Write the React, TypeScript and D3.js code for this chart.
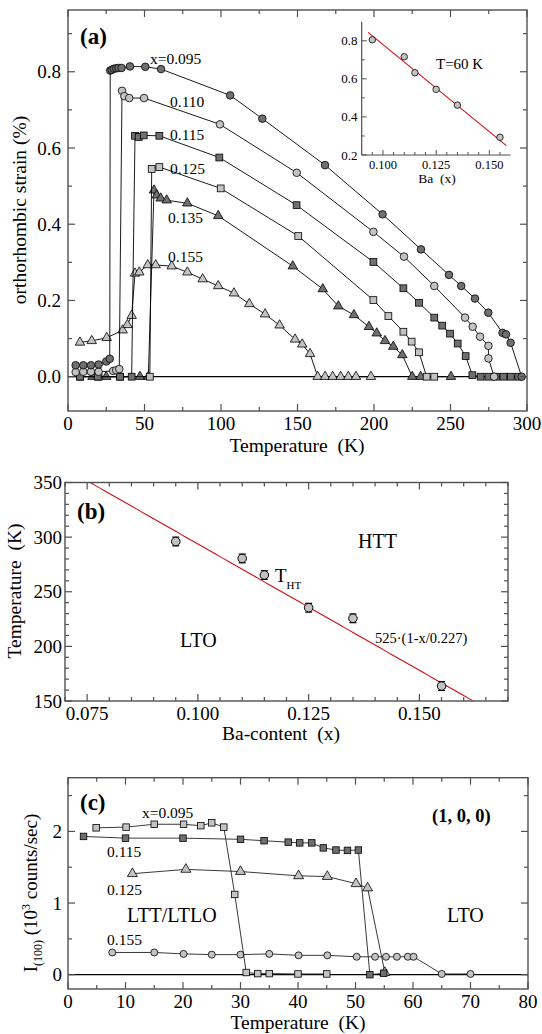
import React from 'react';
import * as d3 from 'd3';

const FONT = '"Liberation Serif", "Times New Roman", Times, serif';
const DARK = '#6f6f6f';
const LIGHT = '#c3c3c3';
const FRAME = '#505050';
const NB = '\u00A0';

// ---------- Panel (a): orthorhombic strain vs temperature ----------
const a095T = [5, 10, 15, 20, 25, 27.3, 27.6, 28.6, 30, 31.5, 33, 35, 40.5, 50.5, 60.8, 106, 127, 168, 205.6, 230.7, 249, 257, 266, 274.7, 284, 286.3, 289.3, 296.5];
const a095V = [0.03, 0.03, 0.03, 0.032, 0.04, 0.047, 0.803, 0.805, 0.808, 0.809, 0.81, 0.81, 0.814, 0.813, 0.807, 0.738, 0.677, 0.555, 0.426, 0.334, 0.267, 0.238, 0.205, 0.168, 0.115, 0.111, 0.089, 0.0];
const a110T = [5, 10, 15, 20, 29.5, 31.5, 33.5, 35.3, 36.8, 40, 49.7, 99.3, 149.5, 199.6, 219.6, 239.4, 259.5, 264.5, 269.3, 274.8, 274.8, 278.5];
const a110V = [0.012, 0.013, 0.013, 0.013, 0.015, 0.017, 0.02, 0.75, 0.736, 0.731, 0.731, 0.662, 0.535, 0.38, 0.315, 0.238, 0.155, 0.131, 0.105, 0.081, 0.048, 0];
const a115T = [7.8, 19.4, 34, 41.6, 43.8, 46.2, 49.5, 59.7, 98.9, 149.4, 199.6, 219.2, 229.4, 239.4, 244.6, 249.7, 254.7, 259.9, 264.3, 269.7, 274.8, 279.7, 284.6, 289.4, 294.3];
const a115V = [0, 0, 0, 0, 0.632, 0.629, 0.633, 0.632, 0.575, 0.45, 0.301, 0.232, 0.194, 0.155, 0.134, 0.113, 0.087, 0.054, 0.004, 0, 0, 0, 0, 0, 0];
const a125T = [8, 20, 34, 53.5, 54.7, 59.7, 99.8, 150.5, 199.6, 209.4, 219.2, 224.6, 229.4, 234.4, 239.4];
const a125V = [0, 0, 0, 0, 0.545, 0.55, 0.494, 0.369, 0.201, 0.159, 0.118, 0.092, 0.064, 0, 0];
const a135T = [16, 25, 47, 52.5, 56.2, 58, 60.6, 64.5, 78, 98.2, 146.9, 166.5, 176.7, 186.9, 196.7, 201.8, 207.2, 212.6, 218.5, 225, 230.5, 250.3];
const a135V = [0, 0, 0, 0, 0.489, 0.476, 0.468, 0.463, 0.455, 0.422, 0.29, 0.23, 0.185, 0.162, 0.131, 0.114, 0.094, 0.079, 0.057, 0, 0, 0];
const a155T = [7.8, 15.5, 25.3, 35.7, 38.8, 41.6, 43.8, 46.6, 52.1, 57.3, 67.8, 78, 88, 98.2, 108.5, 118.5, 128.8, 138.3, 148.4, 153.1, 158.2, 163.2, 168, 173, 178.2, 183.2, 188.2, 198];
const a155V = [0.09, 0.094, 0.102, 0.122, 0.136, 0.16, 0.271, 0.274, 0.293, 0.293, 0.29, 0.274, 0.256, 0.238, 0.219, 0.191, 0.164, 0.135, 0.098, 0.085, 0.06, 0, 0, 0, 0, 0, 0, 0];

const aXMajor = [0, 50, 100, 150, 200, 250, 300];
const aXMinor = [25, 75, 125, 175, 225, 275];
const aYMajor = [0, 0.2, 0.4, 0.6, 0.8];
const aYMinor = [0.1, 0.3, 0.5, 0.7, 0.9];

// inset
const insetX = [0.095, 0.110, 0.115, 0.125, 0.135, 0.155];
const insetY = [0.805, 0.716, 0.632, 0.545, 0.462, 0.293];
const insetFitX = [0.093, 0.158];
const insetFitY = [0.844, 0.249];
const insetXMajor = [0.1, 0.125, 0.15];
const insetXMinor = [0.095, 0.105, 0.11, 0.115, 0.12, 0.13, 0.135, 0.14, 0.145, 0.155];
const insetYMajor = [0.2, 0.4, 0.6, 0.8];
const insetYMinor = [0.3, 0.5, 0.7];

// ---------- Panel (b): T_HT vs Ba content ----------
const bX = [0.095, 0.110, 0.115, 0.125, 0.135, 0.155];
const bT = [296, 280.5, 265.3, 235.4, 225.7, 163.7];
const bErr = [4, 4, 4, 4, 4, 4];
const fitT0 = 525;
const fitXc = 0.227;
const bXMajor = [0.075, 0.1, 0.125, 0.15];
const bXMinor = d3.range(0, 21).map(i => 0.07 + i * 0.005).filter(v => !bXMajor.some(m => Math.abs(m - v) < 1e-6));
const bYMajor = [150, 200, 250, 300, 350];
const bYMinor = d3.range(150, 351, 10).filter(v => v % 50 !== 0);

// ---------- Panel (c): I(100) vs temperature ----------
const c095T = [4.9, 10.1, 15, 20.1, 23.1, 25, 27.1, 29, 31, 33, 35, 40, 45];
const c095I = [2.05, 2.06, 2.10, 2.10, 2.08, 2.12, 2.06, 1.12, 0.03, 0.015, 0.015, 0.01, 0.01];
const c115T = [2.7, 10, 20, 30, 34.1, 38.3, 40.3, 42.4, 44.4, 46.6, 48.6, 50.5, 52.5, 54.9];
const c115I = [1.93, 1.906, 1.906, 1.89, 1.87, 1.85, 1.84, 1.84, 1.77, 1.74, 1.735, 1.74, 0.0, 0.02];
const c125T = [11.2, 20.5, 30, 40.1, 45.1, 50.1, 52.1, 55.1];
const c125I = [1.41, 1.47, 1.44, 1.38, 1.37, 1.27, 1.21, 0.03];
const c155T = [7.7, 15, 20.1, 25, 30, 35, 40.1, 45.1, 50.2, 53.4, 55.3, 57.2, 59.1, 60.1, 65, 70];
const c155I = [0.31, 0.31, 0.29, 0.28, 0.28, 0.29, 0.27, 0.27, 0.25, 0.25, 0.25, 0.25, 0.25, 0.25, 0.01, 0.01];
const cXMajor = [0, 10, 20, 30, 40, 50, 60, 70, 80];
const cXMinor = [5, 15, 25, 35, 45, 55, 65, 75];
const cYMajor = [0, 1, 2];
const cYMinor = [0.5, 1.5, 2.5];

// scales
const xA = d3.scaleLinear().domain([0, 300]).range([68, 527]);
const yA = d3.scaleLinear().domain([-0.09, 0.962]).range([411, 10]);
const xI = d3.scaleLinear().domain([0.09, 0.16]).range([361.7, 510.6]);
const yI = d3.scaleLinear().domain([0.2, 0.9]).range([155, 21.7]);
const xB = d3.scaleLinear().domain([0.07, 0.17]).range([65, 508]);
const yB = d3.scaleLinear().domain([150, 350]).range([701, 482.5]);
const xC = d3.scaleLinear().domain([0, 80]).range([68, 528]);
const yC = d3.scaleLinear().domain([-0.2, 2.75]).range([989, 777.7]);

type Shape = 'circle' | 'square' | 'triangle';

function marker(shape: Shape, cx: number, cy: number, s: number, fill: string, key: string, sw = 0.8) {
  if (shape === 'circle') return <circle key={key} cx={cx} cy={cy} r={s / 2} fill={fill} stroke="#000" strokeWidth={sw} />;
  if (shape === 'square') return <rect key={key} x={cx - s / 2} y={cy - s / 2} width={s} height={s} fill={fill} stroke="#000" strokeWidth={sw} />;
  const h = (s * Math.sqrt(3)) / 2;
  const pts = `${cx},${cy - (2 * h) / 3} ${cx - s / 2},${cy + h / 3} ${cx + s / 2},${cy + h / 3}`;
  return <polygon key={key} points={pts} fill={fill} stroke="#000" strokeWidth={sw} />;
}

function Series({ xs, ys, sx, sy, shape, fill, size, id, lineColor = '#000' }: any) {
  const line = d3.line<number>().x((_, i) => sx(xs[i])).y((_, i) => sy(ys[i]));
  return (
    <g>
      <path d={line(xs) || ''} fill="none" stroke={lineColor} strokeWidth={0.9} />
      {xs.map((x: number, i: number) => marker(shape, sx(x), sy(ys[i]), size, fill, `${id}-${i}`))}
    </g>
  );
}

function Frame({ sx, sy, xMajor, xMinor, yMajor, yMinor, xFmt, yFmt, xLabelBase, yLabelRight }: any) {
  const [x0, x1] = sx.range();
  const [yb, yt] = sy.range();
  const M = 7, m = 4;
  return (
    <g>
      <rect x={x0} y={yt} width={x1 - x0} height={yb - yt} fill="none" stroke={FRAME} strokeWidth={1.4} />
      {xMajor.map((v: number, i: number) => (
        <g key={'xM' + i}>
          <line x1={sx(v)} x2={sx(v)} y1={yb} y2={yb - M} stroke={FRAME} strokeWidth={1.2} />
          <line x1={sx(v)} x2={sx(v)} y1={yt} y2={yt + M} stroke={FRAME} strokeWidth={1.2} />
          <text x={sx(v)} y={xLabelBase} textAnchor="middle" fontSize={19} fontFamily={FONT}>{xFmt(v)}</text>
        </g>
      ))}
      {xMinor.map((v: number, i: number) => (
        <g key={'xm' + i}>
          <line x1={sx(v)} x2={sx(v)} y1={yb} y2={yb - m} stroke={FRAME} strokeWidth={1.2} />
          <line x1={sx(v)} x2={sx(v)} y1={yt} y2={yt + m} stroke={FRAME} strokeWidth={1.2} />
        </g>
      ))}
      {yMajor.map((v: number, i: number) => (
        <g key={'yM' + i}>
          <line x1={x0} x2={x0 + M} y1={sy(v)} y2={sy(v)} stroke={FRAME} strokeWidth={1.2} />
          <line x1={x1} x2={x1 - M} y1={sy(v)} y2={sy(v)} stroke={FRAME} strokeWidth={1.2} />
          <text x={yLabelRight} y={sy(v)} dy="0.35em" textAnchor="end" fontSize={19} fontFamily={FONT}>{yFmt(v)}</text>
        </g>
      ))}
      {yMinor.map((v: number, i: number) => (
        <g key={'ym' + i}>
          <line x1={x0} x2={x0 + m} y1={sy(v)} y2={sy(v)} stroke={FRAME} strokeWidth={1.2} />
          <line x1={x1} x2={x1 - m} y1={sy(v)} y2={sy(v)} stroke={FRAME} strokeWidth={1.2} />
        </g>
      ))}
    </g>
  );
}

function Txt({ x, y, children, size = 15.5, bold = false, anchor = 'start' }: any) {
  return <text x={x} y={y} fontSize={size} fontFamily={FONT} fontWeight={bold ? 'bold' : 'normal'} textAnchor={anchor}>{children}</text>;
}

export default function App() {
  const fitXs = d3.range(0.07, 0.1701, 0.001);
  const fitLine = d3.line<number>().x(d => xB(d)).y(d => yB(fitT0 * (1 - d / fitXc)));
  const insetLine = d3.line<number>().x((_, i) => xI(insetFitX[i])).y((_, i) => yI(insetFitY[i]));
  const f1 = d3.format('.1f');
  const f3 = d3.format('.3f');
  const fi = d3.format('d');
  return (
    <svg width={542} height={1034} style={{ position: 'absolute', left: 0, top: 0, background: '#fff' }} fontFamily={FONT}>
      <rect x={0} y={0} width={542} height={1034} fill="#fff" />
      <defs>
        <clipPath id="clipB"><rect x={65} y={482.5} width={443} height={218.5} /></clipPath>
      </defs>

      {/* ---------- Panel (a) ---------- */}
      <line x1={xA(0)} x2={xA(300)} y1={yA(0)} y2={yA(0)} stroke="#000" strokeWidth={1.2} />
      <Series xs={a155T} ys={a155V} sx={xA} sy={yA} shape="triangle" fill={LIGHT} size={9.5} id="a155" />
      <Series xs={a135T} ys={a135V} sx={xA} sy={yA} shape="triangle" fill={DARK} size={9.5} id="a135" />
      <Series xs={a125T} ys={a125V} sx={xA} sy={yA} shape="square" fill={LIGHT} size={6.8} id="a125" />
      <Series xs={a115T} ys={a115V} sx={xA} sy={yA} shape="square" fill={DARK} size={6.8} id="a115" />
      <Series xs={a110T} ys={a110V} sx={xA} sy={yA} shape="circle" fill={LIGHT} size={7.6} id="a110" />
      <Series xs={a095T} ys={a095V} sx={xA} sy={yA} shape="circle" fill={DARK} size={7.6} id="a095" />
      <Frame sx={xA} sy={yA} xMajor={aXMajor} xMinor={aXMinor} yMajor={aYMajor} yMinor={aYMinor}
        xFmt={fi} yFmt={f1} xLabelBase={430} yLabelRight={61} />
      <Txt x={80} y={44} size={23} bold>(a)</Txt>
      <Txt x={150} y={64}>x=0.095</Txt>
      <Txt x={170} y={107}>0.110</Txt>
      <Txt x={170} y={140}>0.115</Txt>
      <Txt x={170} y={174}>0.125</Txt>
      <Txt x={168} y={223}>0.135</Txt>
      <Txt x={168} y={262}>0.155</Txt>
      <text x={297} y={452} textAnchor="middle" fontSize={19.5} fontFamily={FONT}>{`Temperature${NB}${NB}(K)`}</text>
      <text transform="translate(26,210) rotate(-90)" textAnchor="middle" fontSize={19.5} fontFamily={FONT}>orthorhombic strain (%)</text>

      {/* inset */}
      <g>
        <line x1={xI(0.09)} x2={xI(0.16)} y1={yI(0.2)} y2={yI(0.2)} stroke={FRAME} strokeWidth={1.2} />
        <line x1={xI(0.09)} x2={xI(0.09)} y1={yI(0.2)} y2={yI(0.9)} stroke={FRAME} strokeWidth={1.2} />
        {insetXMajor.map((v, i) => (
          <g key={'ixM' + i}>
            <line x1={xI(v)} x2={xI(v)} y1={yI(0.2)} y2={yI(0.2) - 5} stroke={FRAME} strokeWidth={1} />
            <text x={xI(v)} y={168.5} textAnchor="middle" fontSize={12.5} fontFamily={FONT}>{f3(v)}</text>
          </g>
        ))}
        {insetXMinor.map((v, i) => (
          <line key={'ixm' + i} x1={xI(v)} x2={xI(v)} y1={yI(0.2)} y2={yI(0.2) - 3} stroke={FRAME} strokeWidth={1} />
        ))}
        {insetYMajor.map((v, i) => (
          <g key={'iyM' + i}>
            <line x1={xI(0.09)} x2={xI(0.09) + 5} y1={yI(v)} y2={yI(v)} stroke={FRAME} strokeWidth={1} />
            <text x={357.5} y={yI(v)} dy="0.35em" textAnchor="end" fontSize={13} fontFamily={FONT}>{f1(v)}</text>
          </g>
        ))}
        {insetYMinor.map((v, i) => (
          <line key={'iym' + i} x1={xI(0.09)} x2={xI(0.09) + 3} y1={yI(v)} y2={yI(v)} stroke={FRAME} strokeWidth={1} />
        ))}
        <path d={insetLine(insetFitX) || ''} stroke="#d01010" strokeWidth={1.1} fill="none" />
        {insetX.map((x, i) => marker('circle', xI(x), yI(insetY[i]), 6.5, LIGHT, 'in' + i))}
        <Txt x={436} y={69} size={15}>T=60 K</Txt>
        <text x={437} y={183} textAnchor="middle" fontSize={13.5} fontFamily={FONT}>{`Ba${NB}${NB}(x)`}</text>
      </g>

      {/* ---------- Panel (b) ---------- */}
      <path d={fitLine(fitXs) || ''} clipPath="url(#clipB)" stroke="#d01010" strokeWidth={1.1} fill="none" />
      {bX.map((x, i) => (
        <g key={'be' + i}>
          <line x1={xB(x)} x2={xB(x)} y1={yB(bT[i] - bErr[i])} y2={yB(bT[i] + bErr[i])} stroke="#000" strokeWidth={1} />
          <line x1={xB(x) - 3.5} x2={xB(x) + 3.5} y1={yB(bT[i] - bErr[i])} y2={yB(bT[i] - bErr[i])} stroke="#000" strokeWidth={1.2} />
          <line x1={xB(x) - 3.5} x2={xB(x) + 3.5} y1={yB(bT[i] + bErr[i])} y2={yB(bT[i] + bErr[i])} stroke="#000" strokeWidth={1.2} />
        </g>
      ))}
      {bX.map((x, i) => marker('circle', xB(x), yB(bT[i]), 8.5, LIGHT, 'bp' + i, 1))}
      <Frame sx={xB} sy={yB} xMajor={bXMajor} xMinor={bXMinor} yMajor={bYMajor} yMinor={bYMinor}
        xFmt={f3} yFmt={fi} xLabelBase={720} yLabelRight={62} />
      <Txt x={77} y={519} size={23} bold>(b)</Txt>
      <Txt x={358} y={548} size={20}>HTT</Txt>
      <Txt x={180} y={647} size={20}>LTO</Txt>
      <Txt x={275} y={582} size={19}>T</Txt>
      <Txt x={286.5} y={589} size={11}>HT</Txt>
      <Txt x={375} y={643} size={14.5}>525·(1-x/0.227)</Txt>
      <text x={281} y={740} textAnchor="middle" fontSize={19.5} fontFamily={FONT}>{`Ba-content${NB}${NB}(x)`}</text>
      <text transform="translate(21,591) rotate(-90)" textAnchor="middle" fontSize={19.5} fontFamily={FONT}>{`Temperature${NB}${NB}(K)`}</text>

      {/* ---------- Panel (c) ---------- */}
      <line x1={xC(0)} x2={xC(80)} y1={yC(0)} y2={yC(0)} stroke="#000" strokeWidth={1.2} />
      <Series xs={c155T} ys={c155I} sx={xC} sy={yC} shape="circle" fill={LIGHT} size={7} id="c155" lineColor="#222" />
      <Series xs={c125T} ys={c125I} sx={xC} sy={yC} shape="triangle" fill={LIGHT} size={10} id="c125" lineColor="#222" />
      <Series xs={c115T} ys={c115I} sx={xC} sy={yC} shape="square" fill={DARK} size={6.5} id="c115" lineColor="#222" />
      <Series xs={c095T} ys={c095I} sx={xC} sy={yC} shape="square" fill={LIGHT} size={6.5} id="c095" lineColor="#222" />
      <Frame sx={xC} sy={yC} xMajor={cXMajor} xMinor={cXMinor} yMajor={cYMajor} yMinor={cYMinor}
        xFmt={fi} yFmt={fi} xLabelBase={1008} yLabelRight={62} />
      <Txt x={80} y={810} size={23} bold>(c)</Txt>
      <Txt x={142} y={818}>x=0.095</Txt>
      <Txt x={107} y={857}>0.115</Txt>
      <Txt x={107} y={895}>0.125</Txt>
      <Txt x={127} y={922} size={20}>LTT/LTLO</Txt>
      <Txt x={107} y={945}>0.155</Txt>
      <Txt x={432} y={822} size={18.5} bold>(1, 0, 0)</Txt>
      <Txt x={447} y={922} size={20}>LTO</Txt>
      <text x={298} y={1029} textAnchor="middle" fontSize={19.5} fontFamily={FONT}>{`Temperature${NB}${NB}(K)`}</text>
      <text transform="translate(37,893) rotate(-90)" textAnchor="middle" fontSize={19} fontFamily={FONT}>
        <tspan>I</tspan>
        <tspan fontSize={12} dy={5}>(100)</tspan>
        <tspan dy={-5}>{`${NB}(10`}</tspan>
        <tspan fontSize={12} dy={-7}>3</tspan>
        <tspan dy={7}>{`${NB}counts/sec)`}</tspan>
      </text>
    </svg>
  );
}
